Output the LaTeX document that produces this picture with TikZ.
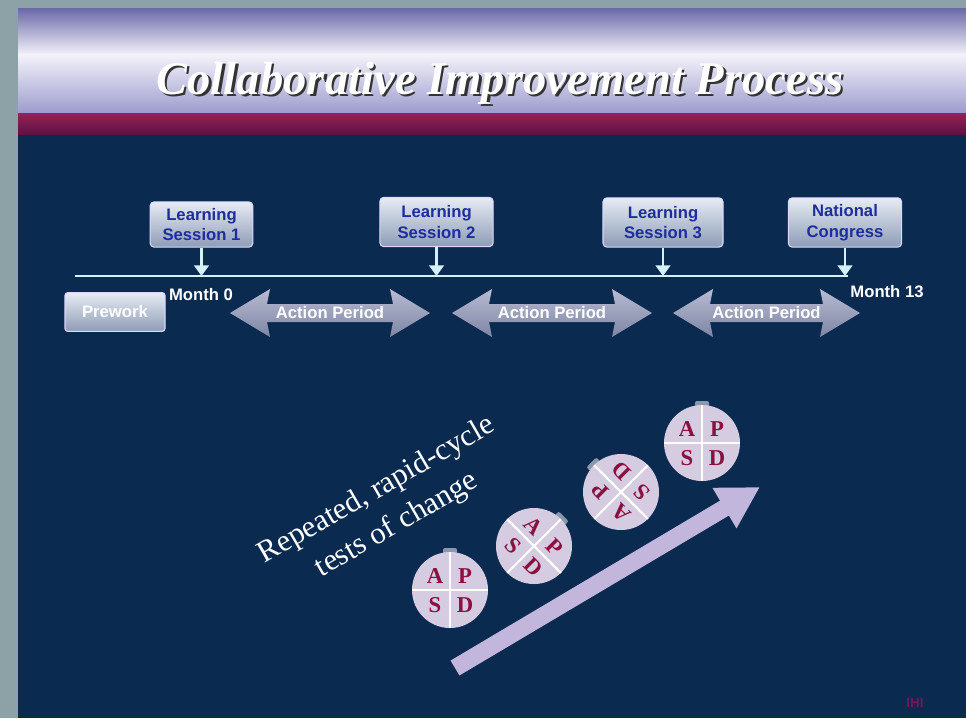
\documentclass[tikz,border=0pt]{standalone}
\usepackage{fontspec}
\setmainfont{Liberation Serif}
\newfontfamily\sansf{Liberation Sans}
\usetikzlibrary{arrows.meta,calc}
\definecolor{navy}{HTML}{0B2A50}
\definecolor{edgegray}{HTML}{8CA2A6}
\definecolor{titletop}{HTML}{6A68A6}
\definecolor{titlemid}{HTML}{F4F2FA}
\definecolor{titlebot}{HTML}{9C9CCE}
\definecolor{bandtop}{HTML}{9A2058}
\definecolor{bandmid}{HTML}{B8306C}
\definecolor{bandbot}{HTML}{5A1444}
\definecolor{boxtop}{HTML}{E6ECF4}
\definecolor{boxbot}{HTML}{8E9CB6}
\definecolor{boxtext}{HTML}{1E2D9E}
\definecolor{linecol}{HTML}{D4F0F8}
\definecolor{acttop}{HTML}{B8BAD2}
\definecolor{actmid}{HTML}{E6E6F2}
\definecolor{actbot}{HTML}{7E86A4}
\definecolor{pdsafill}{HTML}{D6CCE2}
\definecolor{pdsared}{HTML}{8A1040}
\definecolor{tabcol}{HTML}{8A98AE}
\definecolor{bigarrowcol}{HTML}{C2B6DC}
\definecolor{credit}{HTML}{6E1A58}

\newcommand{\pdsacircle}[4]{%
  \begin{scope}[shift={#2}]
    \fill[tabcol, rotate=#4-90, rounded corners=1.5pt] (-7,-42) rectangle (7,-36);
    \node[circle, fill=pdsafill, minimum size=57pt, inner sep=0pt] (#1) at (0,0) {};
    \begin{scope}[rotate=#3, transform shape]
      \draw[white, line width=1.6pt] (-38,0) -- (38,0) (0,-38) -- (0,38);
      \node[pdsaletter] at (-15,-14) {A};
      \node[pdsaletter] at (15,-14) {P};
      \node[pdsaletter] at (-15,15) {S};
      \node[pdsaletter] at (15,15) {D};
    \end{scope}
  \end{scope}}

\newcommand{\actionarrow}[3]{%
  \path[actfill] (#1,313) -- (#1+40,289) -- (#1+37,304) -- (#2-37,304) -- (#2-40,289)
    -- (#2,313) -- (#2-40,337) -- (#2-37,322) -- (#1+37,322) -- (#1+40,337) -- cycle;
  \node[acttext] (#3) at ({(#1+#2)/2},313) {Action Period};}

\newcommand{\titletext}{Collaborative Improvement Process}

\begin{document}
\begin{tikzpicture}[x=0.75pt,y=-0.75pt,
  sessbox/.style={draw=white!85!blue, line width=0.8pt, rounded corners=3pt,
    top color=boxtop, bottom color=boxbot, text=boxtext, align=center, inner sep=0pt,
    font=\sansf\bfseries\fontsize{12.5}{15.5}\selectfont},
  pointer/.style={draw=linecol, line width=2.2pt, -{Triangle[length=8pt,width=11pt]}},
  monthtext/.style={text=white, font=\sansf\bfseries\fontsize{12.5}{14}\selectfont},
  actfill/.style={top color=acttop, middle color=actmid, bottom color=actbot},
  acttext/.style={text=white, font=\sansf\bfseries\fontsize{12.5}{14}\selectfont},
  pdsaletter/.style={text=pdsared, font=\bfseries\fontsize{17}{17}\selectfont, inner sep=0pt},
  bigarrow/.style={draw=bigarrowcol, line width=13pt, -{Triangle[length=31pt,width=33pt]}}]
\useasboundingbox (0,0) rectangle (966,718);
% background
\fill[edgegray] (0,0) rectangle (966,718);
\fill[navy] (18,133) rectangle (966,718);
\shade[top color=titletop, bottom color=titlemid] (18,8) rectangle (966,55);
\shade[top color=titlemid, bottom color=titlebot] (18,54.5) rectangle (966,113);
\shade[top color=bandtop, middle color=bandmid, bottom color=bandbot] (18,113) rectangle (966,134);
% title (shadow drawn inside the same node)
\node[text=white, font=\bfseries\itshape\fontsize{35}{40}\selectfont] (title) at (500,84)
  {\makebox[0pt][l]{\hspace{1.8pt}\raisebox{-1.8pt}{\color{black!80}\titletext}}\titletext};
% timeline
\coordinate (tl0) at (75,276);
\coordinate (tl1) at (848,276);
\draw[linecol, line width=2.2pt] (tl0) -- (tl1);
% session boxes
\node[sessbox, minimum width=77pt, minimum height=34pt] (s1) at (201.5,224.5) {Learning\\Session 1};
\node[sessbox, minimum width=85pt, minimum height=37pt] (s2) at (436.5,222) {Learning\\Session 2};
\node[sessbox, minimum width=90pt, minimum height=37pt] (s3) at (663,222.5) {Learning\\Session 3};
\node[sessbox, minimum width=85pt, minimum height=37pt] (s4) at (845,222.5) {National\\Congress};
\draw[pointer] (s1.south) -- (s1.south |- tl0);
\draw[pointer] (s2.south) -- (s2.south |- tl0);
\draw[pointer] (s3.south) -- (s3.south |- tl0);
\draw[pointer] (s4.south) -- (s4.south |- tl0);
% months
\node[monthtext] (m0) at (201,295) {Month 0};
\node[monthtext] (m13) at (887,292) {Month 13};
% prework
\node[sessbox, text=white, minimum width=75pt, minimum height=29pt, rounded corners=2pt] (prework) at (115,312) {Prework};
% action periods
\actionarrow{230}{430}{ap1}
\actionarrow{452}{652}{ap2}
\actionarrow{673}{860}{ap3}
% rotated text
\node[text=white, rotate=30, align=center, font=\fontsize{23}{30}\selectfont] (repeat) at (387,508) {Repeated, rapid-cycle\\tests of change};
% big arrow
\coordinate (bigtail) at (455,668);
\coordinate (bigtip) at (760,487);
\draw[bigarrow] (bigtail) -- (bigtip);
% PDSA circles
\pdsacircle{c1}{(450,590)}{0}{90}
\pdsacircle{c2}{(534,546)}{-45}{45}
\pdsacircle{c3}{(621,492)}{135}{135}
\pdsacircle{c4}{(702,443)}{0}{90}
% credit
\node[text=credit, font=\sansf\bfseries\fontsize{10}{12}\selectfont] (credit) at (915,703) {IHI};
\end{tikzpicture}
\end{document}
